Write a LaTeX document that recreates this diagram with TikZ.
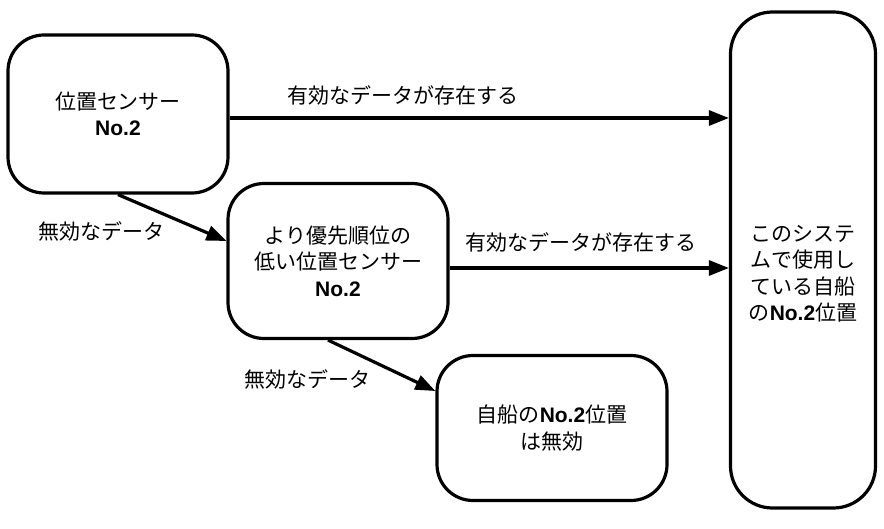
\documentclass[tikz,border=0pt]{standalone}
\usepackage{fontspec}
\setmainfont{Noto Sans CJK JP}
\newfontfamily\latinbold{Liberation Sans}
\usepackage{tikz}
\usetikzlibrary{arrows.meta,positioning,calc}
\newcommand{\nob}{{\latinbold\bfseries No.2}}

\begin{document}
\begin{tikzpicture}[x=1pt, y=-1pt,
  box/.style={draw, line width=3.2pt, rounded corners=36pt, align=center,
              font=\fontsize{21}{26.5}\selectfont, inner sep=0pt},
  flow/.style={line width=3.2pt, -{Triangle[length=20pt,width=15pt]}},
  lbl/.style={font=\fontsize{21}{24}\selectfont, inner sep=2pt}]
  \useasboundingbox (0,0) rectangle (884,529);
  \node[box, minimum width=220pt, minimum height=158pt] (sensor) at (118,114)
    {位置センサー\\\nob};
  \node[box, minimum width=220pt, minimum height=155pt] (lowsensor) at (338,261)
    {より優先順位の\\低い位置センサー\\\nob};
  \node[box, minimum width=230pt, minimum height=145pt] (invalid) at (552,428)
    {自船の\nob 位置\\は無効};
  \node[box, minimum width=145pt, minimum height=496pt, rounded corners=42pt] (ownpos) at (803,260) {};
  \node[align=center, font=\fontsize{21}{26.5}\selectfont, inner sep=0pt] (ownposText)
    at ([yshift=-14pt]ownpos.center) {このシステ\\ムで使用し\\ている自船\\の\nob 位置};
  % valid data
  \draw[flow] ([yshift=-4pt]sensor.east) -- ([yshift=-4pt]sensor.east -| ownpos.west)
    node[lbl, anchor=south west, xshift=54pt, yshift=5pt] at (sensor.east) {有効なデータが存在する};
  \draw[flow] ([yshift=-7pt]lowsensor.east) -- ([yshift=-7pt]lowsensor.east -| ownpos.west)
    node[lbl, anchor=south west, xshift=12pt, yshift=5pt] at (lowsensor.east) {有効なデータが存在する};
  % invalid data
  \draw[flow] (sensor.south) -- ([yshift=20pt]lowsensor.west)
    node[lbl, anchor=north east, pos=0.5, xshift=-4pt] {無効なデータ};
  \draw[flow] ([xshift=-10pt]lowsensor.south) -- ([yshift=37pt]invalid.west)
    node[lbl, anchor=north east, pos=0.5, xshift=-8pt] {無効なデータ};
\end{tikzpicture}
\end{document}
